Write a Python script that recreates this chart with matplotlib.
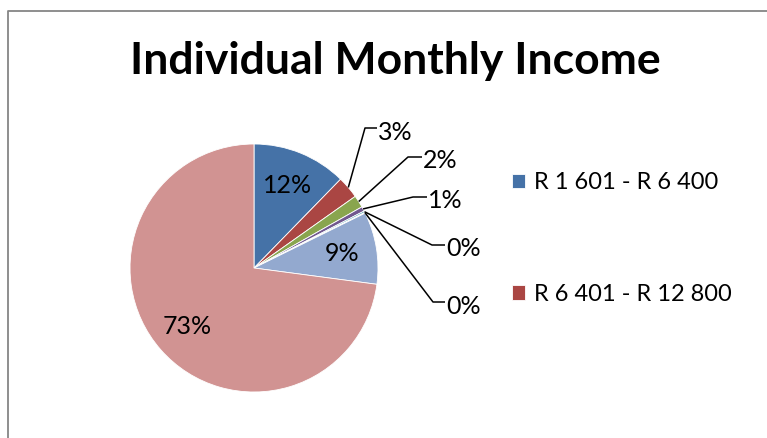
import numpy as np
import matplotlib
matplotlib.use("Agg")
import matplotlib.pyplot as plt
from matplotlib.lines import Line2D

# income bands and share of people (%)
categories = ["R 1 601 - R 6 400", "R 6 401 - R 12 800", "R 12 801 - R 25 600",
              "R 25 601 - R 51 200", "R 51 201 - R 102 400", "R 102 401 - R 204 800",
              "R 1 - R 1 600", "No income"]
shares = [12.3, 2.9, 1.6, 0.6, 0.2, 0.1, 9.4, 72.9]
legend_shown = 2   # the legend in the original is cut to the first two bands

colors = ["#4572A7", "#AA4643", "#89A54E", "#71588F", "#4198AF", "#DB843D",
          "#93A9CF", "#D19392"]

W, H = 767, 438
plt.rcParams['font.family'] = ['Lato', 'DejaVu Sans']

fig = plt.figure(figsize=(W / 100, H / 100), dpi=100)
ax = fig.add_axes([0, 0, 1, 1])

# pixel-like layout, y counted from the bottom
cx, cy, r = 254, H - 268, 124
wedges, _ = ax.pie(shares, colors=colors, startangle=90, counterclock=False,
                   center=(cx, cy), radius=r,
                   wedgeprops=dict(linewidth=0.6, edgecolor="white"))
ax.set_xlim(0, W)
ax.set_ylim(0, H)
ax.set_aspect('equal')
ax.axis('off')

# outer labels: elbow point and text x (screen px) for the small slices
outer = {1: ((365, 128), 377), 2: ((408, 157), 422), 3: ((413, 197), 427),
         4: ((432, 245), 445), 5: ((433, 302), 445)}

for i, w in enumerate(wedges):
    mid = np.deg2rad((w.theta1 + w.theta2) / 2)
    txt = "%.0f%%" % shares[i]
    if i in outer:
        (ex, ey), tx = outer[i]
        sx, sy = cx + r * np.cos(mid), cy + r * np.sin(mid)
        ax.plot([sx, ex, tx], [sy, H - ey, H - ey], color="black", lw=1.1,
                solid_capstyle='butt')
        ax.text(tx + 1, H - ey - 4, txt, fontsize=18, ha="left", va="center")
    else:
        d = 0.72 * r
        ax.text(cx + d * np.cos(mid), cy + d * np.sin(mid), txt,
                fontsize=18, ha="center", va="center")

ax.text(395, H - 61, "Individual Monthly Income", fontsize=32,
        fontweight="bold", ha="center", va="center")

ax.legend(wedges[:legend_shown], categories[:legend_shown],
          loc="upper left", bbox_to_anchor=(512, H - 172),
          bbox_transform=ax.transData, frameon=False, fontsize=17,
          handlelength=0.55, handleheight=0.55, handletextpad=0.38,
          labelspacing=3.85, borderaxespad=0, borderpad=0)

# chart area border: only the left and top edges fall inside the picture
bx, by = 8 / W, (H - 11) / H
fig.lines.append(Line2D([bx, bx, 1.0], [0.0, by, by], transform=fig.transFigure,
                        color="#868686", lw=1.3))

fig.savefig("out.png", dpi=100)
